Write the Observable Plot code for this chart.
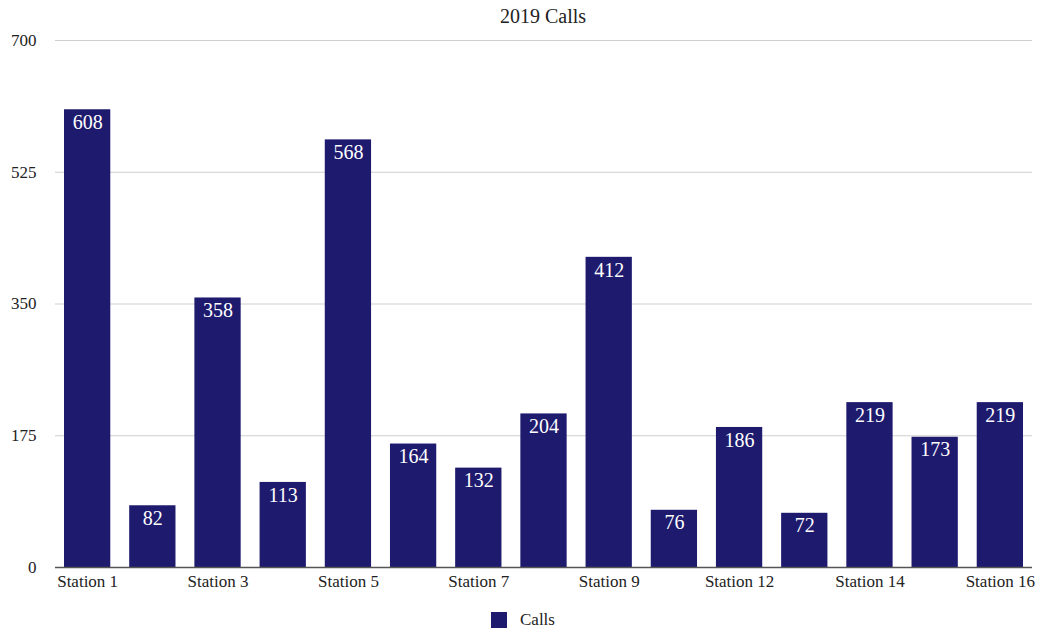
<!DOCTYPE html>
<html>
<head>
<meta charset="utf-8">
<script src="https://cdn.jsdelivr.net/npm/d3@7"></script>
<script src="https://cdn.jsdelivr.net/npm/@observablehq/plot@0.6"></script>
<style>
  html, body { margin: 0; padding: 0; background: #fff; }
  body { width: 1040px; height: 632px; font-family: "Liberation Serif", "Times New Roman", serif; color: #222; }
  #title { height: 28px; line-height: 32px; text-align: center; font-size: 20px; padding-left: 46px; box-sizing: border-box; }
  #legend { display: flex; align-items: center; justify-content: center; gap: 13px; font-size: 17px; line-height: 20px; margin-top: 13px; padding-left: 6px; }
  #legend .sw { width: 16px; height: 16px; background: #1e1a6e; display: inline-block; }
</style>
</head>
<body>
<div id="title">2019 Calls</div>
<div id="chart"></div>
<div id="legend"><span class="sw"></span><span>Calls</span></div>
<script>
const stations = ["Station 1","Station 2","Station 3","Station 4","Station 5","Station 6","Station 7","Station 8","Station 9","Station 10","Station 12","Station 13","Station 14","Station 15","Station 16"];
const calls = [608, 82, 358, 113, 568, 164, 132, 204, 412, 76, 186, 72, 219, 173, 219];
const yTicks = [0, 175, 350, 525, 700];
const shownLabels = ["Station 1","Station 3","Station 5","Station 7","Station 9","Station 12","Station 14","Station 16"];

const data = stations.map((s, i) => ({station: s, calls: calls[i]}));
const barColor = "#1e1a6e";

const chart = Plot.plot({
  width: 1040,
  height: 569,
  marginTop: 12,
  marginBottom: 30,
  marginLeft: 55,
  marginRight: 8,
  style: {fontFamily: "'Liberation Serif', 'Times New Roman', serif", fontSize: "17px", color: "#222", background: "#fff"},
  x: {domain: stations, paddingInner: 0.29, paddingOuter: 0.138, round: false, label: null},
  y: {domain: [0, 700], label: null},
  marks: [
    Plot.gridY(yTicks, {stroke: "#cfcfcf", strokeOpacity: 1, strokeWidth: 1}),
    Plot.axisY(yTicks, {tickSize: 0, tickPadding: 19, fontSize: 17, label: null}),
    Plot.barY(data, {x: "station", y: "calls", fill: barColor}),
    Plot.ruleY([0], {stroke: "#555", strokeWidth: 1.5}),
    Plot.axisX(shownLabels, {tickSize: 0, tickPadding: 7, fontSize: 17, label: null}),
    Plot.text(data, {x: "station", y: "calls", text: d => String(d.calls), fill: "white", fontSize: 20, lineAnchor: "top", dy: 5})
  ]
});
document.getElementById("chart").appendChild(chart);
</script>
</body>
</html>
